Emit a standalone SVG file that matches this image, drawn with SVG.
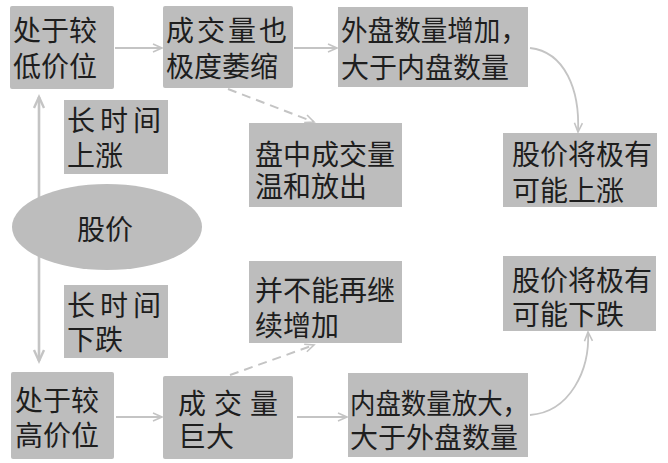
<svg xmlns="http://www.w3.org/2000/svg" width="668" height="463" viewBox="0 0 668 463">
<style>
.box{fill:#bdbdbd;}
.t{font-family:"Liberation Sans","Noto Sans CJK SC","Noto Sans CJK TC",sans-serif;font-size:28px;fill:#1e1e1e;}
.c{fill:none;stroke:#c4c4c4;stroke-width:1.8;}
.d{fill:none;stroke:#c4c4c4;stroke-width:2;stroke-dasharray:9,6;}
.v{fill:none;stroke:#c4c4c4;stroke-width:2.6;}
</style>
<defs>
<marker id="ah" markerUnits="userSpaceOnUse" markerWidth="14" markerHeight="14" refX="10" refY="5" orient="auto">
<path d="M1,1 L10,5 L1,9" fill="none" stroke="#c4c4c4" stroke-width="1.6"/>
</marker>
<marker id="av" markerUnits="userSpaceOnUse" markerWidth="16" markerHeight="16" refX="12" refY="6" orient="auto-start-reverse">
<path d="M1,1 L12,6 L1,11" fill="none" stroke="#c4c4c4" stroke-width="2.4"/>
</marker>
</defs>
<g id="connectors">
<line class="v" x1="39" y1="97" x2="39" y2="361" marker-start="url(#av)" marker-end="url(#av)"/>
<line class="c" x1="115" y1="48" x2="162" y2="48" marker-end="url(#ah)"/>
<line class="c" x1="294" y1="48" x2="337" y2="48" marker-end="url(#ah)"/>
<path class="c" d="M530,48 C565,52 580,90 578,132" marker-end="url(#ah)"/>
<line class="d" x1="228" y1="89" x2="314" y2="122" marker-end="url(#ah)"/>
<line class="d" x1="230" y1="375" x2="314" y2="345" marker-end="url(#ah)"/>
<line class="c" x1="116" y1="417" x2="162" y2="417" marker-end="url(#ah)"/>
<line class="c" x1="297" y1="417" x2="347" y2="417" marker-end="url(#ah)"/>
<path class="c" d="M530,415 C570,412 590,370 588,332" marker-end="url(#ah)"/>
</g>
<g id="n1"><rect class="box" x="10" y="6" width="104" height="83" rx="2"/>
<text class="t" x="13" y="41" font-size="29">处于较</text><text class="t" x="13" y="77" font-size="29">低价位</text></g>
<g id="n2"><rect class="box" x="163" y="6" width="130" height="82" rx="2"/>
<text class="t" x="166" y="41" font-size="29" letter-spacing="3">成交量也</text><text class="t" x="166" y="77" font-size="29">极度萎缩</text></g>
<g id="n3"><rect class="box" x="338" y="7" width="190" height="80"/>
<text class="t" x="341" y="41" font-size="29" textLength="186" lengthAdjust="spacingAndGlyphs">外盘数量增加，</text><text class="t" x="341" y="78" font-size="29">大于内盘数量</text></g>
<g id="n4"><rect class="box" x="503" y="133" width="154" height="74"/>
<text class="t" x="512" y="165" font-size="27">股价将极有</text><text class="t" x="512" y="201" font-size="27">可能上涨</text></g>
<g id="n5"><rect class="box" x="64" y="100" width="104" height="74"/>
<text class="t" x="67" y="131" letter-spacing="5">长时间</text><text class="t" x="67" y="166">上涨</text></g>
<g id="n6"><ellipse class="box" cx="107" cy="227" rx="95" ry="43"/>
<text class="t" x="77" y="240" font-size="29">股价</text></g>
<g id="n7"><rect class="box" x="249" y="123" width="153" height="84"/>
<text class="t" x="255" y="165">盘中成交量</text><text class="t" x="255" y="197">温和放出</text></g>
<g id="n8"><rect class="box" x="64" y="285" width="104" height="73"/>
<text class="t" x="67" y="316" letter-spacing="5">长时间</text><text class="t" x="67" y="350">下跌</text></g>
<g id="n9"><rect class="box" x="249" y="261" width="153" height="82"/>
<text class="t" x="255" y="301">并不能再继</text><text class="t" x="255" y="336">续增加</text></g>
<g id="n10"><rect class="box" x="503" y="256" width="153" height="75"/>
<text class="t" x="512" y="291" font-size="27">股价将极有</text><text class="t" x="512" y="325" font-size="27">可能下跌</text></g>
<g id="n11"><rect class="box" x="11" y="372" width="103" height="87" rx="2"/>
<text class="t" x="15" y="411">处于较</text><text class="t" x="15" y="446">高价位</text></g>
<g id="n12"><rect class="box" x="163" y="376" width="130" height="83" rx="2"/>
<text class="t" x="178" y="414" letter-spacing="8">成交量</text><text class="t" x="178" y="447">巨大</text></g>
<g id="n13"><rect class="box" x="348" y="373" width="180" height="84"/>
<text class="t" x="350" y="414" textLength="178" lengthAdjust="spacingAndGlyphs">内盘数量放大，</text><text class="t" x="350" y="448">大于外盘数量</text></g>
</svg>
